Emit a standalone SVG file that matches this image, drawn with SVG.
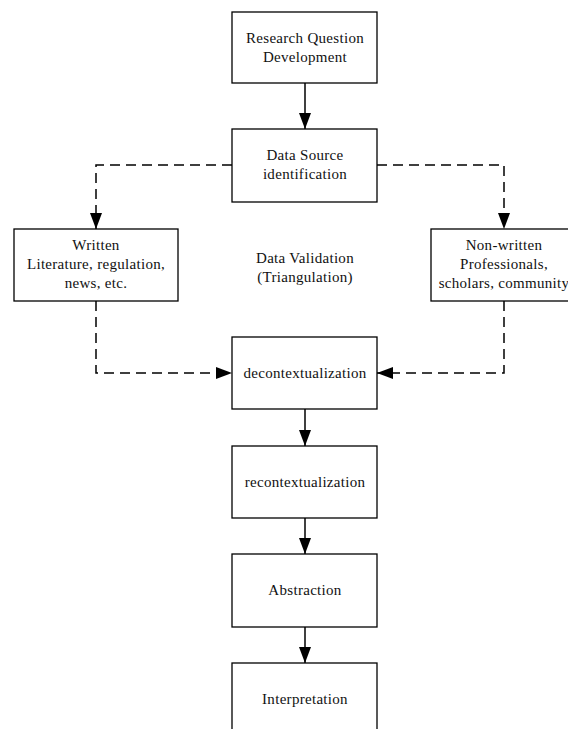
<svg xmlns="http://www.w3.org/2000/svg" width="568" height="729" viewBox="0 0 568 729">
<style>
rect.box{fill:#fff;stroke:#000;stroke-width:1.3}
text{font-family:"Liberation Serif","Times New Roman",serif;font-size:15px;fill:#111;text-anchor:middle;letter-spacing:0.3px}
.solid{fill:none;stroke:#000;stroke-width:1.5}
.dash{fill:none;stroke:#000;stroke-width:1.5;stroke-dasharray:10,6}
</style>
<defs>
<marker id="ah" viewBox="0 0 16 12" refX="16" refY="6" markerWidth="16" markerHeight="12" markerUnits="userSpaceOnUse" orient="auto">
<path d="M0,0 L16,6 L0,12 Z" fill="#000"/>
</marker>
</defs>
<rect width="568" height="729" fill="#fff"/>
<g id="connectors">
<line class="solid" x1="305" y1="83" x2="305" y2="129" marker-end="url(#ah)"/>
<polyline class="dash" points="232,165 96,165 96,229" marker-end="url(#ah)"/>
<polyline class="dash" points="377,165 504,165 504,229" marker-end="url(#ah)"/>
<polyline class="dash" points="96,301 96,373 232,373" marker-end="url(#ah)"/>
<polyline class="dash" points="504,301 504,373 377,373" marker-end="url(#ah)"/>
<line class="solid" x1="305" y1="409" x2="305" y2="446" marker-end="url(#ah)"/>
<line class="solid" x1="305" y1="518" x2="305" y2="554" marker-end="url(#ah)"/>
<line class="solid" x1="305" y1="627" x2="305" y2="663" marker-end="url(#ah)"/>
</g>
<g id="n1"><rect class="box" x="232" y="12" width="145" height="71"/><text x="305" y="43">Research Question</text><text x="305" y="62">Development</text></g>
<g id="n2"><rect class="box" x="232" y="129" width="145" height="73"/><text x="305" y="160">Data Source</text><text x="305" y="179">identification</text></g>
<g id="written"><rect class="box" x="14" y="229" width="164" height="72"/><text x="96" y="250">Written</text><text x="96" y="269">Literature, regulation,</text><text x="96" y="288">news, etc.</text></g>
<g id="validation"><text x="305" y="263">Data Validation</text><text x="305" y="282">(Triangulation)</text></g>
<g id="nonwritten"><rect class="box" x="431" y="229" width="146" height="72"/><text x="504" y="250">Non-written</text><text x="504" y="269">Professionals,</text><text x="504" y="288">scholars, community</text></g>
<g id="decontext"><rect class="box" x="232" y="337" width="145" height="72"/><text x="305" y="378">decontextualization</text></g>
<g id="recontext"><rect class="box" x="232" y="446" width="145" height="72"/><text x="305" y="487">recontextualization</text></g>
<g id="abstraction"><rect class="box" x="232" y="554" width="145" height="73"/><text x="305" y="595">Abstraction</text></g>
<g id="interpretation"><rect class="box" x="232" y="663" width="145" height="80"/><text x="305" y="704">Interpretation</text></g>
</svg>
